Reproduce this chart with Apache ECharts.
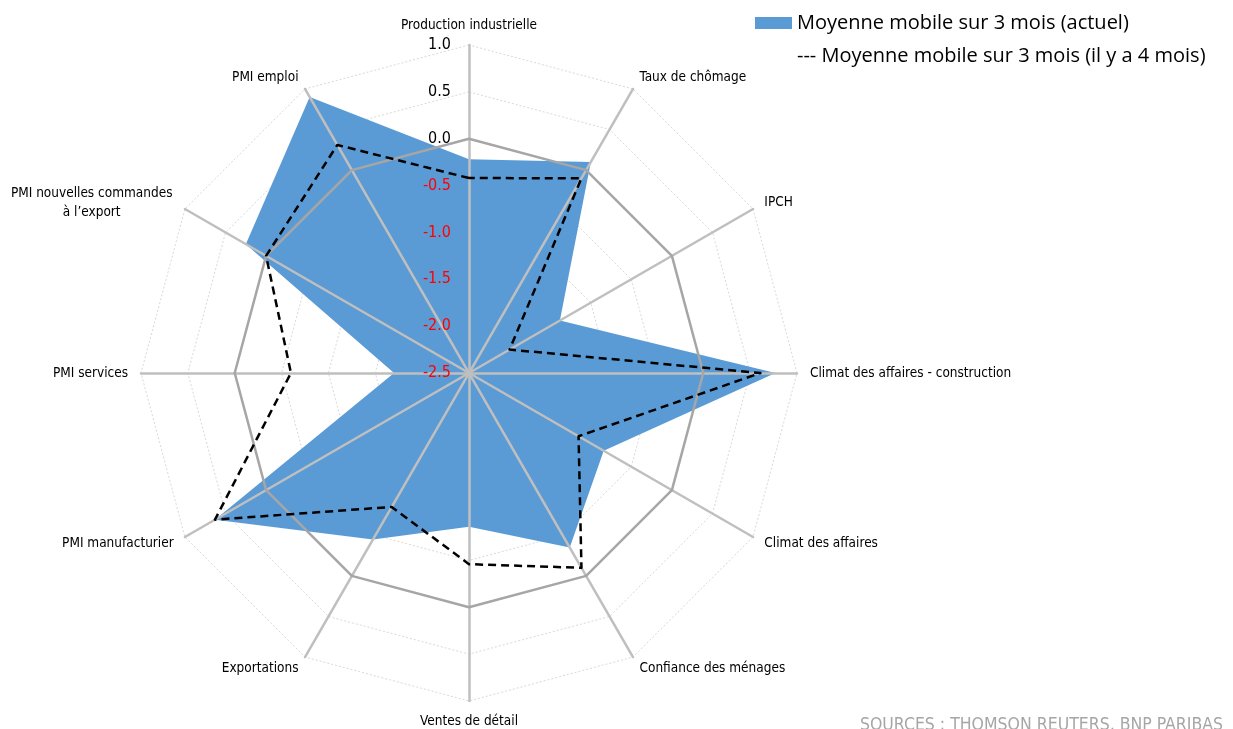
<!DOCTYPE html>
<html><head><meta charset="utf-8">
<script src="https://cdn.jsdelivr.net/npm/echarts@6/dist/echarts.min.js"></script>
<style>html,body{margin:0;padding:0;background:#fff}#c{width:1233px;height:729px}</style>
</head><body><div id="c"></div>
<script>
// Categories in clockwise order starting at the top
const categories = [
  'Production industrielle',
  'Taux de chômage',
  'IPCH',
  'Climat des affaires - construction',
  'Climat des affaires',
  'Confiance des ménages',
  'Ventes de détail',
  'Exportations',
  'PMI manufacturier',
  'PMI services',
  'PMI nouvelles commandes\nà l\u2019export',
  'PMI emploi'
];
const actual =        [-0.22,  0.10, -1.38, 0.77, -0.84, -0.35, -0.86, -0.45, 0.63, -1.70, 0.25, 0.90];
const fourMonthsAgo = [-0.42, -0.10, -2.00, 0.61, -1.15, -0.10, -0.46, -0.85, 0.63, -0.60, 0.00, 0.31];
const zeroRing =      [0, 0, 0, 0, 0, 0, 0, 0, 0, 0, 0, 0];
const axisMin = -2.5, axisMax = 1.0, axisSplits = 7;

const S1 = 'Moyenne mobile sur 3 mois (actuel)';
const S2 = 'Moyenne mobile sur 3 mois (il y a 4 mois)';
const SOURCE = 'SOURCES : THOMSON REUTERS, BNP PARIBAS';

// ECharts radar runs counter-clockwise: keep first, reverse the rest
const ccw = a => [a[0]].concat(a.slice(1).reverse());

const narrow = "'Liberation Sans Narrow', 'DejaVu Sans Condensed', 'Liberation Sans', sans-serif";

const makeIndicators = withLabel => ccw(categories).map((c, i) => {
  const o = { name: c, min: axisMin, max: axisMax };
  if (withLabel && i === 0) o.axisLabel = { show: true };
  return o;
});

const radarBase = {
  center: [469, 373], radius: 328, startAngle: 90,
  splitNumber: axisSplits, shape: 'polygon',
  splitArea: { show: false },
  axisTick: { show: false }
};

const chart = echarts.init(document.getElementById('c'), null, { renderer: 'canvas' });
chart.setOption({
  animation: false,
  backgroundColor: '#fff',
  title: {
    text: SOURCE, right: 5, top: 711,
    textStyle: { color: '#a6a6a6', fontSize: 17.5, fontWeight: 'normal', fontFamily: narrow }
  },
  legend: {
    orient: 'vertical', left: 755, top: 13, padding: 0,
    itemWidth: 37, itemHeight: 12, itemGap: 13,
    selectedMode: false,
    textStyle: { color: '#000', fontSize: 20, fontFamily: "'Open Sans', 'Noto Sans', sans-serif" },
    formatter: n => n === S2 ? '--- ' + n : n,
    data: [
      { name: S1, icon: 'rect', itemStyle: { color: '#5b9bd5' } },
      { name: S2, icon: 'none' }
    ]
  },
  radar: [
    Object.assign({}, radarBase, {
      z: 0,
      indicator: makeIndicators(false),
      axisName: { show: false },
      axisLine: { show: false },
      axisLabel: { show: false },
      splitLine: { lineStyle: { color: '#d9d9d9', width: 1, type: [2, 2] } }
    }),
    Object.assign({}, radarBase, {
      z: 3,
      indicator: makeIndicators(true),
      nameGap: 13,
      axisName: {
        color: '#000', fontSize: 13.5, fontFamily: narrow,
        formatter: n => n.indexOf('\n') >= 0 ? n.split('\n').map(s => '{c|' + s + '}').join('\n') : n,
        rich: { c: { width: 164, align: 'center', fontSize: 13.5, fontFamily: narrow, color: '#000', lineHeight: 19 } }
      },
      axisLine: { lineStyle: { color: '#bfbfbf', width: 2.5 } },
      splitLine: { show: false },
      axisLabel: {
        show: false, fontSize: 16, fontFamily: narrow, margin: 18,
        formatter: v => (+v).toFixed(1),
        color: v => (+v < 0 ? '#ff0000' : '#000')
      }
    })
  ],
  series: [
    {
      type: 'radar', name: S1, radarIndex: 0, z: 1, symbol: 'none', silent: true,
      lineStyle: { width: 0, color: '#5b9bd5' },
      itemStyle: { color: '#5b9bd5' },
      areaStyle: { color: '#5b9bd5', opacity: 1 },
      data: [{ value: ccw(actual), name: S1 }]
    },
    {
      type: 'radar', name: 'zero', radarIndex: 1, z: 4, symbol: 'none', silent: true,
      lineStyle: { color: '#a6a6a6', width: 2.5 },
      data: [{ value: ccw(zeroRing), name: 'zero' }]
    },
    {
      type: 'radar', name: S2, radarIndex: 1, z: 5, symbol: 'none', silent: true,
      lineStyle: { color: '#000', width: 2.5, type: [8, 5] },
      itemStyle: { color: '#000' },
      data: [{ value: ccw(fourMonthsAgo), name: S2 }]
    }
  ]
});
</script>
</body></html>
